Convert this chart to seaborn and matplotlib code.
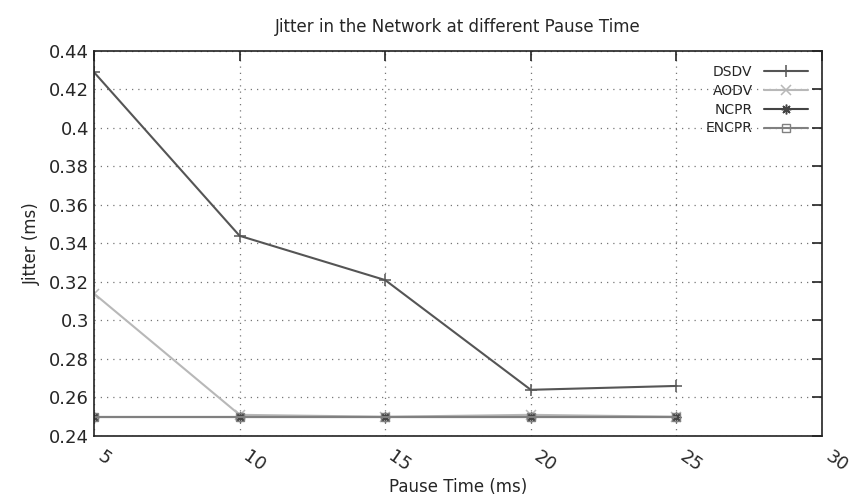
import matplotlib
matplotlib.use("Agg")
import matplotlib.pyplot as plt
import seaborn as sns
import pandas as pd

pause_time = [5, 10, 15, 20, 25]
dsdv = [0.429, 0.344, 0.321, 0.264, 0.266]
aodv = [0.314, 0.251, 0.250, 0.251, 0.250]
ncpr = [0.250, 0.250, 0.250, 0.250, 0.250]
encpr = [0.250, 0.250, 0.250, 0.250, 0.250]
series_names = ["DSDV", "AODV", "NCPR", "ENCPR"]
x_ticks = [5, 10, 15, 20, 25, 30]
y_ticks = [0.24, 0.26, 0.28, 0.30, 0.32, 0.34, 0.36, 0.38, 0.40, 0.42, 0.44]
y_tick_labels = ["0.24", "0.26", "0.28", "0.3", "0.32", "0.34", "0.36", "0.38", "0.4", "0.42", "0.44"]

sns.set_style("white")
plt.rcParams['font.family'] = ['DejaVu Sans']

fig = plt.figure(figsize=(8.52, 4.98), dpi=100)
ax = fig.add_axes([0.1103, 0.1245, 0.8545, 0.7731])

values = [dsdv, aodv, ncpr, encpr]
colors = ["#555555", "#b8b8b8", "#444444", "#808080"]
markers = ["+", "x", (8, 2, 0), "s"]
msizes = [8, 7, 7, 6]

for name, vals, c, m, ms in zip(series_names, values, colors, markers, msizes):
    df = pd.DataFrame({"Pause": pause_time, "Jitter": vals})
    kw = dict(marker=m, markersize=ms, color=c, linewidth=1.5, label=name,
              markeredgecolor=c)
    if m == "s":
        kw.update(markerfacecolor="none", markeredgewidth=1.0)
    else:
        kw.update(markeredgewidth=1.1)
    sns.lineplot(data=df, x="Pause", y="Jitter", ax=ax, **kw)

ax.set_xlim(5, 30)
ax.set_ylim(0.24, 0.44)
ax.set_xticks(x_ticks)
ax.set_xticklabels([str(t) for t in x_ticks], rotation=-35, ha="left", va="top", fontsize=13)
ax.set_yticks(y_ticks)
ax.set_yticklabels(y_tick_labels, fontsize=13)
ax.tick_params(axis="both", direction="in", length=7, width=1.2, top=True, right=True, color="#222222")
ax.tick_params(axis="x", pad=8)
ax.grid(True, linestyle=(0, (1, 4)), color="#777777", linewidth=0.9)
for s in ax.spines.values():
    s.set_color("#222222")
    s.set_linewidth(1.2)
    s.set_visible(True)

ax.set_xlabel("Pause Time (ms)", fontsize=12, labelpad=2)
ax.set_ylabel("Jitter (ms)", fontsize=12, labelpad=6)
ax.set_title("Jitter in the Network at different Pause Time", fontsize=12, pad=14)

leg = ax.legend(loc="upper right", frameon=False, markerfirst=False, fontsize=10,
                handlelength=3.2, labelspacing=0.35, borderaxespad=0.6)

fig.savefig("out.png", dpi=100)
